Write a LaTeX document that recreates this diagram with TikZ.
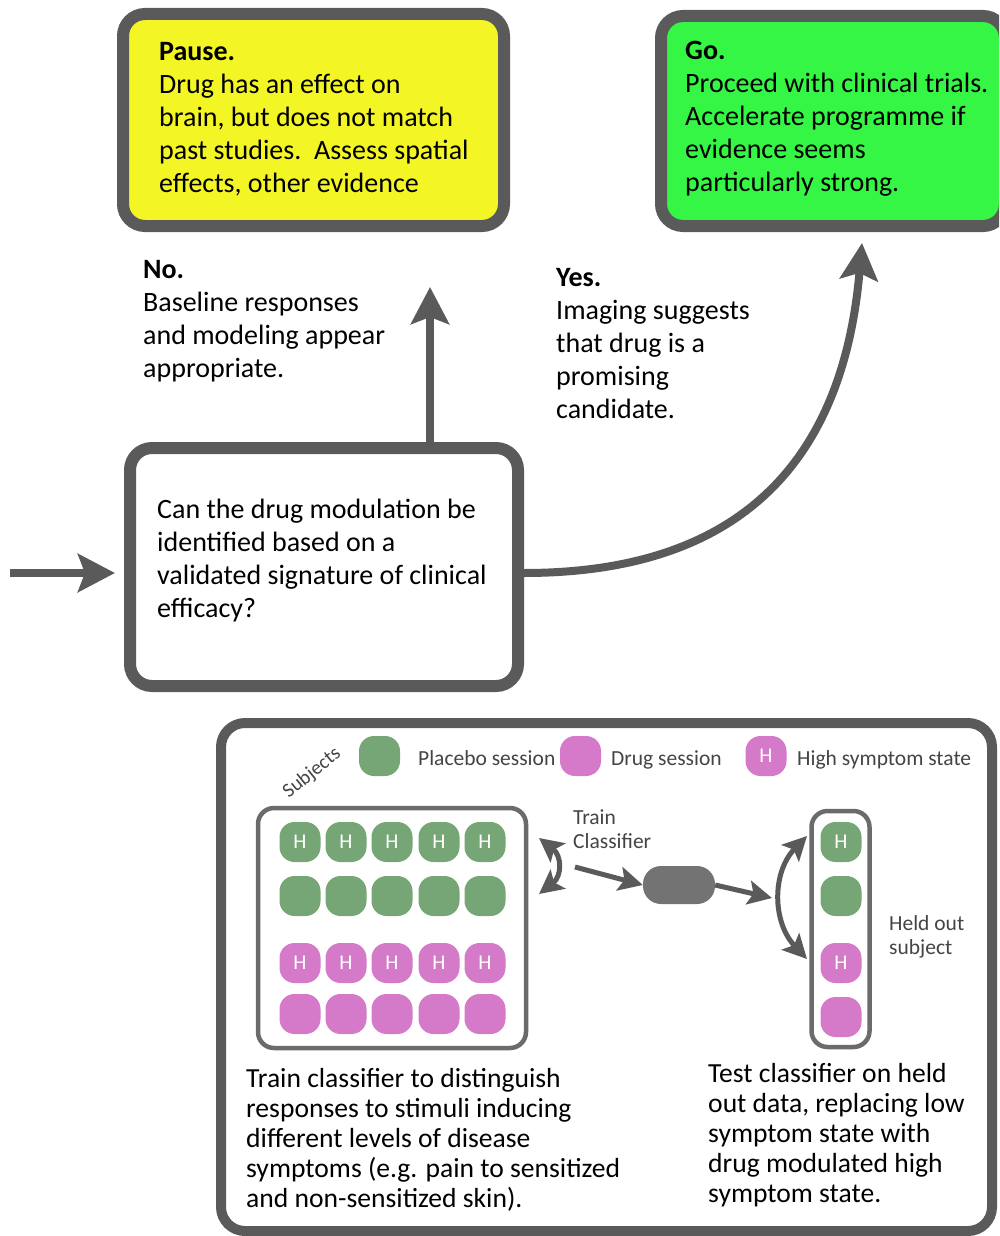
\documentclass[tikz,border=0pt]{standalone}
\usepackage{fontspec}
\setmainfont{Carlito}
\usetikzlibrary{arrows.meta}
\definecolor{bord}{HTML}{5A5A5A}
\definecolor{gbord}{HTML}{6B6B6B}
\definecolor{yfill}{HTML}{F3F524}
\definecolor{gfill}{HTML}{35F545}
\definecolor{pgreen}{HTML}{76A676}
\definecolor{ppink}{HTML}{D57AC8}
\definecolor{cls}{HTML}{737373}
\definecolor{ltxt}{HTML}{444444}
\newcommand\TxBig{\fontsize{28}{33}\selectfont}
\newcommand\TxMid{\fontsize{27.6}{30}\selectfont}
\newcommand\TxSm{\fontsize{21.5}{24}\selectfont}
\begin{document}
\begin{tikzpicture}[x=1pt,y=-1pt,
  bigbox/.style={draw=bord, line width=12pt, rounded corners=22pt, inner sep=0pt},
  flow/.style={draw=bord, line width=8pt, -{Stealth[length=37pt,width=38pt,inset=7pt]}},
  small/.style={draw=bord, line width=5pt, -{Stealth[length=24pt,width=24pt,inset=5pt]}},
  smalltwo/.style={draw=bord, line width=5pt, {Stealth[length=24pt,width=24pt,inset=5pt]}-{Stealth[length=24pt,width=24pt,inset=5pt]}},
  pill/.style={rectangle, rounded corners=15pt, minimum width=41pt, minimum height=40pt, inner sep=0pt, text=white, font=\fontsize{21}{21}\selectfont},
  pg/.style={pill, fill=pgreen},
  pp/.style={pill, fill=ppink},
  txt/.style={anchor=base west, inner sep=0pt, align=left, font=\TxBig},
  ltx/.style={anchor=base west, inner sep=0pt, align=left, font=\TxSm, text=ltxt},
  btx/.style={anchor=base west, inner sep=0pt, align=left, font=\TxMid},
]
\useasboundingbox (0,0) rectangle (999,1236);
\clip (0,0) rectangle (999,1236);

% top boxes
\node[bigbox, fill=yfill, minimum width=381pt, minimum height=212pt] (pause) at (313.5,120) {};
\node[txt] (pauset) at (159,192) {\textbf{Pause.}\\Drug has an effect on\\brain, but does not match\\past studies.\ \ Assess spatial\\effects, other evidence};

\node[bigbox, fill=gfill, minimum width=344pt, minimum height=210pt] (go) at (833,121) {};
\node[txt] (got) at (685,191) {\textbf{Go.}\\Proceed with clinical trials.\\Accelerate programme if\\evidence seems\\particularly strong.};

% labels
\node[txt] (no) at (143,377) {\textbf{No.}\\Baseline responses\\and modeling appear\\appropriate.};
\node[txt] (yes) at (556,418) {\textbf{Yes.}\\Imaging suggests\\that drug is a\\promising\\candidate.};

% question box
\node[bigbox, fill=white, minimum width=388pt, minimum height=238pt] (q) at (324,567) {};
\node[txt] (qt) at (157,617) {Can the drug modulation be\\identified based on a\\validated signature of clinical\\efficacy?};

\coordinate (inStart) at (10,573);
\coordinate (noEnd) at (430,287);
\coordinate (yesEnd) at (862,243);
\draw[flow, shorten >=9pt] (inStart) -- (q.west |- inStart);
\draw[flow] (q.north -| noEnd) -- (noEnd);
\draw[flow] ([yshift=-6pt]q.east) .. controls (760,573) and (845,440) .. (yesEnd);

% bottom panel
\node[draw=bord, line width=10pt, rounded corners=24pt, fill=white, minimum width=771pt, minimum height=508pt, inner sep=0pt] (panel) at (606.5,977) {};

% legend
\node[rotate=39, inner sep=0pt, font=\fontsize{20}{20}\selectfont, text=ltxt] (subj) at (312,773) {Subjects};
\node[pg] (lg) at (379.5,756) {};
\node[ltx] (lgt) at (418,765) {Placebo session};
\node[pp] (lp) at (580.5,756) {};
\node[ltx] (lpt) at (611,765) {Drug session};
\node[pp] (lh) at (766,756) {H};
\node[ltx] (lht) at (797,765) {High symptom state};

% training grid
\node[draw=gbord, line width=4.5pt, rounded corners=16pt, minimum width=268pt, minimum height=240pt, inner sep=0pt] (grid) at (392,928) {};
\foreach \c/\x in {1/300,2/346,3/392,4/439,5/485}{
  \node[pg] (ga\c) at (\x,842) {H};
  \node[pg] (gb\c) at (\x,896) {};
  \node[pp] (gc\c) at (\x,963) {H};
  \node[pp] (gd\c) at (\x,1014) {};
}

% classifier
\node[rectangle, rounded corners=18pt, fill=cls, minimum width=72pt, minimum height=38pt, inner sep=0pt] (clf) at (679,885) {};
\node[ltx] (clft) at (573,848) {Train\\Classifier};

% held out
\node[draw=gbord, line width=4.5pt, rounded corners=16pt, minimum width=58pt, minimum height=236pt, inner sep=0pt] (held) at (840.5,929) {};
\node[pg] (ha) at (841,842) {H};
\node[pg] (hb) at (841,896) {};
\node[pp] (hc) at (841,963) {H};
\node[pp] (hd) at (841,1017) {};
\node[ltx] (heldt) at (889,954) {Held out\\subject};

% small arrows
\coordinate (dA1) at (539,838);
\coordinate (dA2) at (539,894);
\draw[smalltwo] (dA1) .. controls (562,856) and (562,876) .. (dA2);
\coordinate (cIn) at (575,867);
\draw[small] (cIn) -- (clf.west);
\coordinate (hIn) at (772,898);
\draw[small] (clf.east) -- (hIn);
\coordinate (dB1) at (807,836);
\coordinate (dB2) at (807,959);
\draw[smalltwo] (dB1) .. controls (772,872) and (772,922) .. (dB2);

% bottom texts
\node[btx] (trt) at (246,1207) {Train classifier to distinguish\\responses to stimuli inducing\\different levels of disease\\symptoms (e.g. pain to sensitized\\and non-sensitized skin).};
\node[btx] (tet) at (708,1202) {Test classifier on held\\out data, replacing low\\symptom state with\\drug modulated high\\symptom state.};
\end{tikzpicture}
\end{document}
